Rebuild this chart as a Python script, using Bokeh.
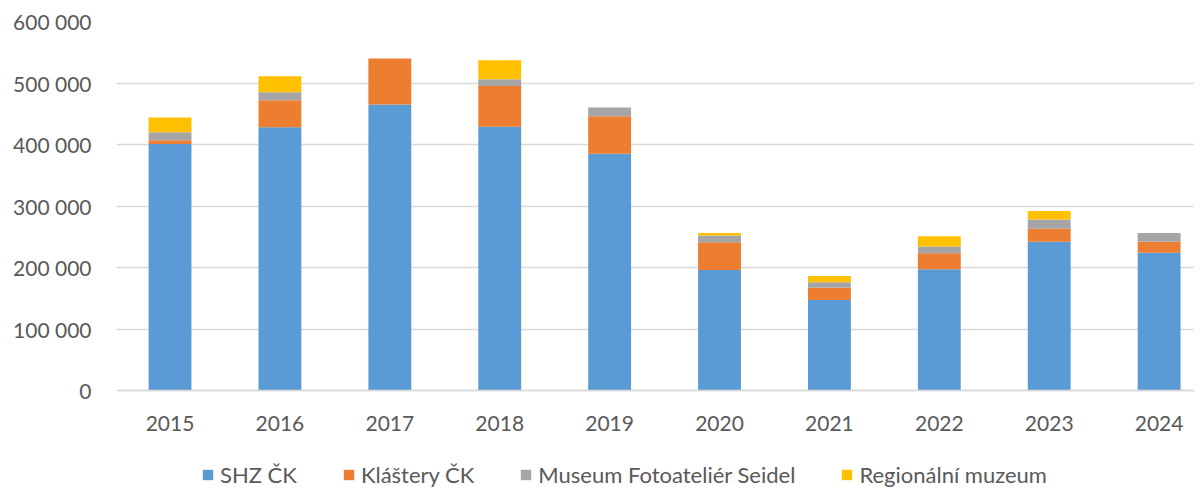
from bokeh.plotting import figure
from bokeh.models import ColumnDataSource, Range1d, FixedTicker, Legend
from bokeh.embed import file_html
from bokeh.resources import INLINE

years = [2015, 2016, 2017, 2018, 2019, 2020, 2021, 2022, 2023, 2024]
shz = [401000, 428000, 465000, 429000, 385000, 196000, 147000, 197000, 242000, 224000]
klastery = [6000, 44000, 75000, 66000, 61000, 45000, 20000, 26000, 21000, 18000]
seidel = [13000, 13000, 0, 11000, 14000, 11000, 9000, 11000, 15000, 14000]
regionalni = [24000, 26000, 0, 31000, 0, 4000, 10000, 17000, 14000, 0]

series_keys = ["shz", "klastery", "seidel", "regionalni"]
series_names = ["SHZ ČK", "Kláštery ČK", "Museum Fotoateliér Seidel", "Regionální muzeum"]
colors = ["#5B9BD5", "#ED7D31", "#A5A5A5", "#FFC000"]

y_ticks = [0, 100000, 200000, 300000, 400000, 500000, 600000]
y_tick_labels = ["0", "100 000", "200 000", "300 000", "400 000", "500 000", "600 000"]

source = ColumnDataSource(dict(x=years, shz=shz, klastery=klastery,
                               seidel=seidel, regionalni=regionalni))

FONT = "Lato"
TXT = "#595959"

# layout: value axis spans 369 px; the frame extends 98 px below zero
# to hold the category labels and the legend
AXIS_PX = 369
BELOW_PX = 98
Y_MAX = 600000
y_min = -BELOW_PX * Y_MAX / AXIS_PX

p = figure(frame_width=1078, frame_height=AXIS_PX + BELOW_PX,
           output_backend="svg", toolbar_location=None,
           x_range=Range1d(2014.513, 2024.322), y_range=Range1d(y_min, Y_MAX),
           min_border_left=116, min_border_right=0, min_border_top=21,
           min_border_bottom=0)
p.outline_line_color = None

renderers = p.vbar_stack(series_keys, x="x", width=0.39, source=source,
                         color=colors, line_color=None)

# y axis
p.yaxis.ticker = FixedTicker(ticks=y_ticks)
p.yaxis.major_label_overrides = {t: l for t, l in zip(y_ticks, y_tick_labels)}
p.yaxis.axis_line_color = None
p.yaxis.major_tick_line_color = None
p.yaxis.minor_tick_line_color = None
p.yaxis.major_tick_out = 0
p.yaxis.major_tick_in = 0
p.yaxis.major_label_standoff = 25
p.yaxis.major_label_text_font = FONT
p.yaxis.major_label_text_font_size = "21px"
p.yaxis.major_label_text_color = TXT

# x axis, drawn at value 0
p.xaxis.fixed_location = 0
p.xaxis.ticker = FixedTicker(ticks=years)
p.xaxis.major_label_overrides = {y: str(y) for y in years}
p.xaxis.axis_line_color = "#D9D9D9"
p.xaxis.axis_line_width = 1.5
p.xaxis.major_tick_line_color = None
p.xaxis.minor_tick_line_color = None
p.xaxis.major_tick_out = 0
p.xaxis.major_tick_in = 0
p.xaxis.major_label_standoff = 25
p.xaxis.major_label_text_font = FONT
p.xaxis.major_label_text_font_size = "21px"
p.xaxis.major_label_text_color = TXT

p.xgrid.grid_line_color = None
p.ygrid.grid_line_color = "#D9D9D9"
p.ygrid.grid_line_width = 1.5

legend = Legend(items=[(n, [r]) for n, r in zip(series_names, renderers)],
                orientation="horizontal", location=(85, 0),
                label_text_font=FONT, label_text_font_size="22px",
                label_text_color=TXT, glyph_width=13, glyph_height=13,
                label_standoff=6, spacing=45, border_line_color=None,
                background_fill_alpha=0, padding=0, margin=0,
                label_height=20)
p.add_layout(legend)

open("out.html", "w").write(file_html(p, INLINE))
